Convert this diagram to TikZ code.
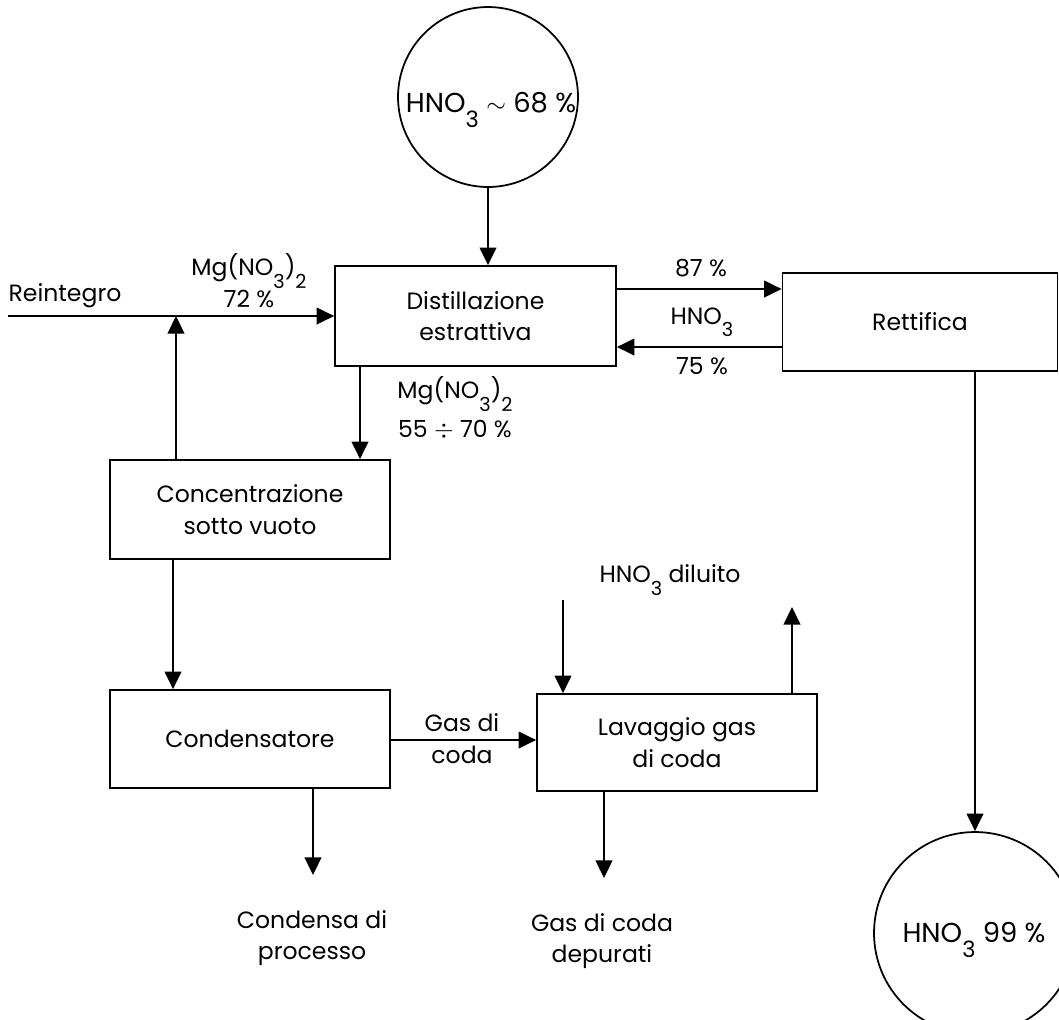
\documentclass[tikz,border=0pt]{standalone}
\usepackage{fontspec}
\usepackage{graphicx}
\setmainfont{Poppins}
\usetikzlibrary{arrows.meta}
\newcommand{\sbs}[1]{\raisebox{-0.52em}[0pt][0pt]{\scalebox{0.82}{#1}}}
\begin{document}
\begin{tikzpicture}[x=0.02cm,y=-0.02cm,
  every node/.style={font=\fontsize{13.4}{18}\selectfont, inner sep=0pt},
  box/.style={draw, line width=1pt, rectangle, align=center},
  circ/.style={draw, line width=1pt, circle, align=center, font=\fontsize{15.6}{20}\selectfont},
  lbl/.style={align=center},
  arr/.style={line width=1pt, -{Triangle[length=10pt,width=9.5pt]}}]
\useasboundingbox (0,0) rectangle (1059,1019);
\clip (0,0) rectangle (1059,1019);
% nodes
\node[circ, minimum size=3.6cm] (top) at (488,97) {};
\node (ttop) at (491,103) {\fontsize{15.6}{20}\selectfont HNO\sbs{3} $\sim$ 68 \%};
\node[box, minimum width=5.62cm, minimum height=2.0cm] (dist) at (475.5,316) {Distillazione\\estrattiva};
\node[box, minimum width=5.5cm, minimum height=1.96cm] (ret) at (920,322) {Rettifica};
\node[box, minimum width=5.6cm, minimum height=1.98cm] (conc) at (250,509.5) {Concentrazione\\sotto vuoto};
\node[box, minimum width=5.6cm, minimum height=1.96cm] (cond) at (250,739) {Condensatore};
\node[box, minimum width=5.6cm, minimum height=1.94cm] (lav) at (677,742.5) {Lavaggio gas\\di coda};
\node[circ, minimum size=4.04cm] (bot) at (975,933) {};
\node (tbot) at (974,933) {\fontsize{15.6}{20}\selectfont HNO\sbs{3} 99 \%};
% labels
\node[lbl] (lrein) at (65,296) {Reintegro};
\node[lbl] (lmg1) at (249,268) {Mg(NO\sbs{3})\sbs{2}};
\node[lbl] (l72) at (249,299) {72 \%};
\node[lbl] (l87) at (701,268) {87 \%};
\node[lbl] (lhno) at (702,316) {HNO\sbs{3}};
\node[lbl] (l75) at (702,366) {75 \%};
\node[lbl] (lmg2) at (455,391) {Mg(NO\sbs{3})\sbs{2}};
\node[lbl] (l55) at (455,430) {55 $\div$ 70 \%};
\node[lbl] (lgas) at (462,723) {Gas di};
\node[lbl] (lcoda) at (462,755) {coda};
\node[lbl] (ldil) at (670,574) {HNO\sbs{3} diluito};
\node[lbl] (lcp) at (312,938) {Condensa di\\processo};
\node[lbl] (lgd) at (602,941) {Gas di coda\\depurati};
% coordinates
\coordinate (rein) at (8,316);
\coordinate (j1) at (176,316);
\coordinate (d1) at (360,0);
\coordinate (y87) at (0,289);
\coordinate (y75) at (0,347);
\coordinate (xr) at (975,0);
\coordinate (c1) at (173,0);
\coordinate (y740) at (0,740);
\coordinate (hd) at (563,600);
\coordinate (up) at (792,607);
\coordinate (cd) at (313,875);
\coordinate (gd) at (604,878);
% connectors
\draw[arr] (top.south) -- (top.south |- dist.north);
\draw[arr] (rein) -- (rein -| dist.west);
\draw[arr] (j1 |- conc.north) -- (j1);
\draw[arr] (d1 |- dist.south) -- (d1 |- conc.north);
\draw[arr] (y87 -| dist.east) -- (y87 -| ret.west);
\draw[arr] (y75 -| ret.west) -- (y75 -| dist.east);
\draw[arr] (xr |- ret.south) -- (bot.north);
\draw[arr] (c1 |- conc.south) -- (c1 |- cond.north);
\draw[arr] (y740 -| cond.east) -- (y740 -| lav.west);
\draw[arr] (hd) -- (hd |- lav.north);
\draw[arr] (up |- lav.north) -- (up);
\draw[arr] (cd |- cond.south) -- (cd);
\draw[arr] (gd |- lav.south) -- (gd);
\end{tikzpicture}
\end{document}
